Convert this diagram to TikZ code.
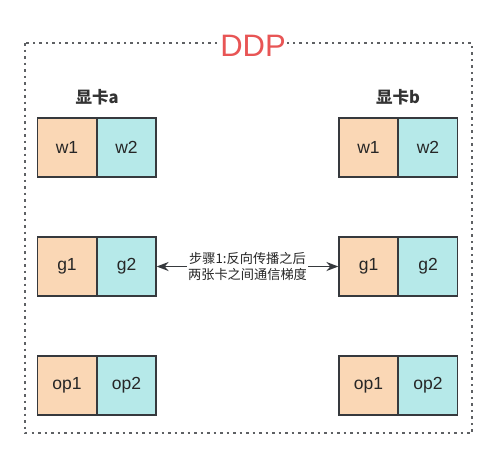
\documentclass[tikz,border=0pt]{standalone}
\usepackage{fontspec}
\setmainfont{Liberation Sans}
\newfontfamily\cjk{Noto Sans CJK SC}
\usetikzlibrary{arrows.meta}
\definecolor{peach}{HTML}{FAD7B5}
\definecolor{cyanb}{HTML}{B6E9E9}
\definecolor{edge}{HTML}{36393D}
\definecolor{ddpred}{HTML}{E85555}
\begin{document}
\begin{tikzpicture}[x=1pt,y=-1pt,
  cell/.style={draw=edge,line width=1.2pt,minimum width=59pt,minimum height=59pt,inner sep=0pt,font=\fontsize{17.5}{20}\selectfont,text=black!85},
  lcell/.style={cell,fill=peach},
  rcell/.style={cell,fill=cyanb},
  cardlabel/.style={font=\cjk\bfseries\fontsize{16.5}{20}\selectfont,text=black!80}]
\useasboundingbox (0,0) rectangle (497,459);
\draw[edge!80,line width=1.5pt,dash pattern=on 2.5pt off 4pt] (25,43) rectangle (472,433);
\node[fill=white,inner sep=1pt,text=ddpred,font=\fontsize{31}{35}\selectfont] (ddp) at (253,46) {DDP};
\node[cardlabel] (la) at (97,97) {显卡a};
\node[cardlabel] (lb) at (398,97) {显卡b};
% left
\node[lcell] (aw1) at (67,147.5) {w1};
\node[rcell] (aw2) at (126.5,147.5) {w2};
\node[lcell] (ag1) at (67,266.5) {g1};
\node[rcell] (ag2) at (126.5,266.5) {g2};
\node[lcell] (aop1) at (67,385.5) {op1};
\node[rcell] (aop2) at (126.5,385.5) {op2};
% right
\node[lcell] (bw1) at (368.5,147.5) {w1};
\node[rcell] (bw2) at (428,147.5) {w2};
\node[lcell] (bg1) at (368.5,266.5) {g1};
\node[rcell] (bg2) at (428,266.5) {g2};
\node[lcell] (bop1) at (368.5,385.5) {op1};
\node[rcell] (bop2) at (428,385.5) {op2};
\draw[edge,line width=1.8pt,{Stealth[length=12pt,width=9pt]}-{Stealth[length=12pt,width=9pt]}] (ag2.east) -- (bg1.west)
  node[midway,fill=white,inner sep=1pt,align=center,font=\cjk\fontsize{13.2}{16}\selectfont,text=black!85] (lbl) {步骤1:反向传播之后\\两张卡之间通信梯度};
\end{tikzpicture}
\end{document}
